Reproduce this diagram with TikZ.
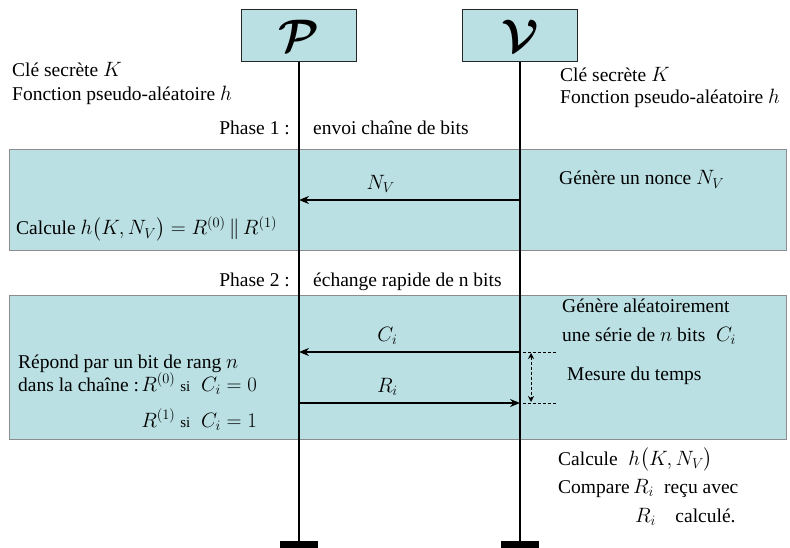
\documentclass[tikz,border=0pt]{standalone}
\usepackage{amsmath}
\usepackage{amssymb}
\usepackage{fontspec}
\setmainfont{Liberation Serif}
\usepackage{tikz}
\usetikzlibrary{arrows.meta, positioning, calc}
\definecolor{tealfill}{RGB}{186,224,227}

\begin{document}
\begin{tikzpicture}[x=1pt, y=-1pt,
    every node/.style={font=\fontsize{19.5}{23}\selectfont, inner sep=0pt},
    actor/.style={draw=black!85, line width=1pt, fill=tealfill, minimum width=115pt, minimum height=52pt},
    band/.style={draw=black!45, fill=tealfill, anchor=north west},
    txt/.style={anchor=base west},
    life/.style={line width=1.6pt},
    msg/.style={-{Stealth[length=10pt, width=8pt]}, line width=1.6pt},
    timer/.style={densely dashed, line width=0.9pt},
    foot/.style={fill=black, minimum width=38pt, minimum height=7pt, anchor=north}
]
\useasboundingbox (0,0) rectangle (790,548);

% Phases
\node[band, minimum width=777pt, minimum height=101pt] (band1) at (9,149) {};
\node[band, minimum width=777pt, minimum height=144pt] (band2) at (9,295) {};

% Actors and lifelines
\node[actor] (P) at (299,36) {\scalebox{2.2}{$\boldsymbol{\mathcal{P}}$}};
\node[actor] (V) at (520,36) {\scalebox{2.2}{$\boldsymbol{\mathcal{V}}$}};
\node[foot] (Pfoot) at (299,541) {};
\node[foot] (Vfoot) at (520,541) {};
\draw[life] (P) -- (Pfoot);
\draw[life] (V) -- (Vfoot);

% Messages
\draw[msg] (V |- 0,200) -- node[pos=0.63, above=7pt] (lblNV) {$N_V$} (P |- 0,200);
\draw[msg] (V |- 0,352) -- node[pos=0.6, above=7pt] (lblC) {$C_i$} (P |- 0,352);
\draw[msg] (P |- 0,403) -- node[pos=0.4, above=7pt] (lblR) {$R_i$} (V |- 0,403);

% Time measure
\coordinate (tA) at (523,352);
\coordinate (tB) at (556,352);
\coordinate (tC) at (523,403);
\coordinate (tD) at (556,403);
\coordinate (tTop) at (531,353);
\coordinate (tBot) at (531,402);
\draw[timer] (tA) -- (tB);
\draw[timer] (tC) -- (tD);
\draw[timer, {Stealth[length=6pt, width=6pt]}-{Stealth[length=6pt, width=6pt]}] (tTop) -- (tBot);

% Texts
\node[txt] (keyP) at (12,77) {Clé secrète $K$};
\node[txt] (prfP) at (12,101) {Fonction pseudo-aléatoire $h$};
\node[txt] (keyV) at (560,82) {Clé secrète $K$};
\node[txt] (prfV) at (560,104) {Fonction pseudo-aléatoire $h$};

\node[anchor=base east] (ph1) at (290,135) {Phase 1 :};
\node[txt] (ph1txt) at (313,135) {envoi chaîne de bits};
\node[anchor=base east] (ph2) at (290,287) {Phase 2 :};
\node[txt] (ph2txt) at (313,287) {échange rapide de n bits};

\node[txt] (nonce) at (559,185) {Génère un nonce $N_V$};
\node[txt] (calcP) at (16,235) {Calcule $h\bigl(K,N_V\bigr) = R^{(0)}\,\|\,R^{(1)}$};

\node[txt] (genC1) at (562,312) {Génère aléatoirement};
\node[txt] (genC2) at (562,341) {une série de $n$ bits $\;C_i$};
\node[txt] (mesure) at (567,380) {Mesure du temps};

\node[txt] (rep1) at (18,368) {Répond par un bit de rang $n$};
\node[txt] (rep2) at (18,391) {dans la chaîne :};
\node[txt, right=2pt of rep2.base east, anchor=base west] (rep2b) {$R^{(0)}$ {\fontsize{15}{18}\selectfont si} $\;C_i = 0$};
\node[txt] (rep3) at (rep2b.base west |- 0,427) {$R^{(1)}$ {\fontsize{15}{18}\selectfont si} $\;C_i = 1$};

\node[txt] (calcV) at (558,465) {Calcule $\;h\bigl(K,N_V\bigr)$};
\node[txt] (cmp1) at (558,493) {Compare$\,R_i$\; reçu avec};
\node[txt] (cmp2) at (635,522) {$R_i$\quad calculé.};
\end{tikzpicture}
\end{document}
